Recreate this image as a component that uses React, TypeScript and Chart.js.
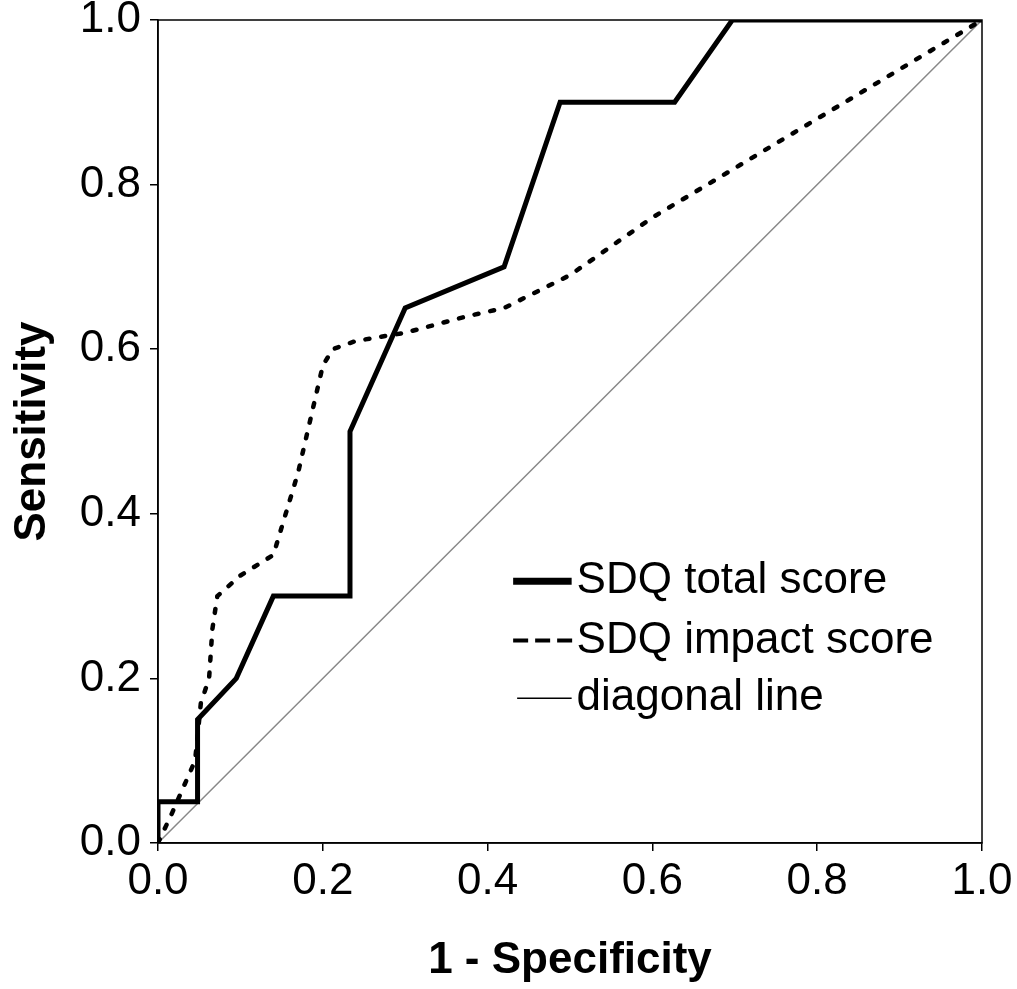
import React, { useEffect, useRef } from "react";
import { Chart, registerables } from "chart.js";

Chart.register(...registerables);

const totalX = [0, 0, 0.048, 0.048, 0.095, 0.14, 0.233, 0.233, 0.30, 0.42, 0.488, 0.627, 0.697, 1];
const totalY = [0, 0.05, 0.05, 0.15, 0.2, 0.3, 0.3, 0.5, 0.65, 0.7, 0.9, 0.9, 1, 1];

const impactX = [0, 0.016, 0.045, 0.052, 0.062, 0.066, 0.072, 0.1, 0.14, 0.17, 0.2, 0.212, 0.24, 0.3, 0.375, 0.42, 0.5, 0.6, 0.7, 0.8, 0.9, 1];
const impactY = [0, 0.034, 0.1, 0.17, 0.2, 0.26, 0.3, 0.325, 0.35, 0.45, 0.58, 0.6, 0.61, 0.62, 0.64, 0.65, 0.69, 0.76, 0.82, 0.88, 0.94, 1];

const diagX = [0, 1];
const diagY = [0, 1];

const tickValues = [0, 0.2, 0.4, 0.6, 0.8, 1.0];
const seriesLabels = ["SDQ total score", "SDQ impact score", "diagonal line"];
const xTitle = "1 - Specificity";
const yTitle = "Sensitivity";

const FONT = "'Liberation Sans', Arial, sans-serif";

const toPts = (xs: number[], ys: number[]) => xs.map((x, i) => ({ x, y: ys[i] }));

const framePlugin = {
  id: "frame",
  beforeDatasetsDraw(chart: any) {
    const { ctx, chartArea: a } = chart;
    ctx.save();
    ctx.strokeStyle = "#000";
    ctx.lineWidth = 1.5;
    ctx.strokeRect(a.left, a.top, a.right - a.left, a.bottom - a.top);
    ctx.restore();
  },
};

const legendPlugin = {
  id: "innerLegend",
  afterDatasetsDraw(chart: any) {
    const { ctx, chartArea: a } = chart;
    const w = a.right - a.left;
    const h = a.bottom - a.top;
    const x0 = a.left + 0.431 * w;
    const x1 = a.left + 0.502 * w;
    const tx = a.left + 0.508 * w;
    const rows = [0.682, 0.754, 0.824].map((f) => a.top + f * h);
    ctx.save();
    ctx.strokeStyle = "#000";
    ctx.lineWidth = 7;
    ctx.setLineDash([]);
    ctx.beginPath();
    ctx.moveTo(x0, rows[0]);
    ctx.lineTo(x1, rows[0]);
    ctx.stroke();
    ctx.lineWidth = 4;
    ctx.setLineDash([15, 7]);
    ctx.beginPath();
    ctx.moveTo(x0, rows[1]);
    ctx.lineTo(x1 + 2, rows[1]);
    ctx.stroke();
    ctx.setLineDash([]);
    ctx.lineWidth = 1.5;
    ctx.beginPath();
    ctx.moveTo(x0 + 4, rows[2]);
    ctx.lineTo(x1, rows[2]);
    ctx.stroke();
    ctx.fillStyle = "#000";
    ctx.font = `44px ${FONT}`;
    ctx.textBaseline = "middle";
    ctx.textAlign = "left";
    chart.data.datasets.forEach((d: any, i: number) => {
      ctx.fillText(d.label, tx, rows[i]);
    });
    ctx.restore();
  },
};

export default function App() {
  const ref = useRef<HTMLCanvasElement>(null);
  useEffect(() => {
    if (!ref.current) return;
    const chart = new Chart(ref.current, {
      type: "scatter",
      data: {
        datasets: [
          {
            label: seriesLabels[0],
            data: toPts(totalX, totalY),
            showLine: true,
            borderColor: "#000",
            borderWidth: 5,
            pointRadius: 0,
            tension: 0,
            borderJoinStyle: "miter",
            order: 1,
          },
          {
            label: seriesLabels[1],
            data: toPts(impactX, impactY),
            showLine: true,
            borderColor: "#000",
            borderWidth: 4.5,
            borderDash: [4, 12],
            borderCapStyle: "round",
            pointRadius: 0,
            tension: 0,
            order: 2,
          },
          {
            label: seriesLabels[2],
            data: toPts(diagX, diagY),
            showLine: true,
            borderColor: "#888",
            borderWidth: 1.5,
            pointRadius: 0,
            order: 3,
          },
        ],
      },
      options: {
        responsive: false,
        animation: false,
        layout: { padding: { top: 20, right: 35, left: 0, bottom: 0 } },
        plugins: { legend: { display: false }, tooltip: { enabled: false } },
        scales: {
          x: {
            type: "linear",
            min: 0,
            max: 1,
            afterFit: (s: any) => {
              s.height = 146;
              s.paddingLeft = 0;
              s.paddingRight = 0;
            },
            afterBuildTicks: (s: any) => {
              s.ticks = tickValues.map((v) => ({ value: v }));
            },
            grid: { display: true, drawOnChartArea: false, drawTicks: true, tickLength: 8, color: "#000", lineWidth: 1.5 },
            border: { display: true, color: "#000", width: 1.5 },
            ticks: {
              color: "#000",
              font: { family: FONT, size: 44 },
              padding: 4,
              maxRotation: 0,
              callback: (v: any) => Number(v).toFixed(1),
            },
            title: {
              display: true,
              text: xTitle,
              color: "#000",
              font: { family: FONT, size: 44, weight: "bold" },
              padding: { top: 0, bottom: 2 },
            },
          },
          y: {
            type: "linear",
            min: 0,
            max: 1,
            afterFit: (s: any) => {
              s.width = 158;
              s.paddingTop = 0;
              s.paddingBottom = 0;
            },
            afterBuildTicks: (s: any) => {
              s.ticks = tickValues.map((v) => ({ value: v }));
            },
            grid: { display: true, drawOnChartArea: false, drawTicks: true, tickLength: 8, color: "#000", lineWidth: 1.5 },
            border: { display: true, color: "#000", width: 1.5 },
            ticks: {
              color: "#000",
              font: { family: FONT, size: 44 },
              padding: 9,
              callback: (v: any) => Number(v).toFixed(1),
            },
            title: {
              display: true,
              text: yTitle,
              color: "#000",
              font: { family: FONT, size: 44, weight: "bold" },
              padding: { top: 6, bottom: 0 },
            },
          },
        },
      },
      plugins: [framePlugin, legendPlugin],
    } as any);
    return () => chart.destroy();
  }, []);
  return (
    <canvas
      ref={ref}
      width={1017}
      height={989}
      style={{ position: "absolute", left: 0, top: 0, display: "block", background: "#fff" }}
    />
  );
}
